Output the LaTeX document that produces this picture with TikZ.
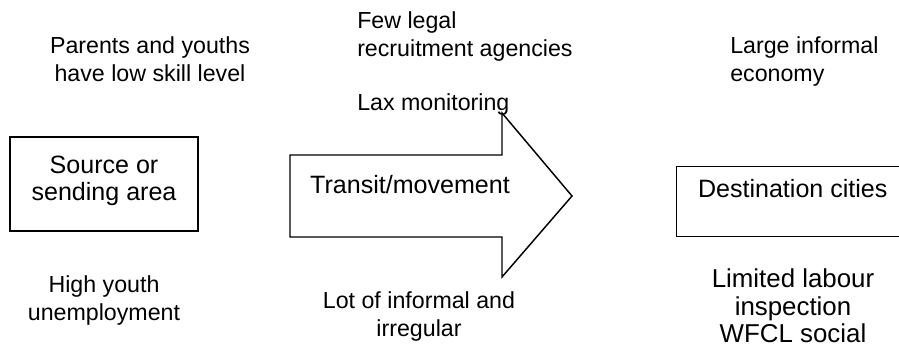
\documentclass[tikz,border=0pt]{standalone}
\usepackage{fontspec}
\setmainfont{Liberation Sans}
\usetikzlibrary{positioning}

\newcommand{\notefont}{\fontsize{17.4}{20.6}\selectfont}
\newcommand{\boxfont}{\fontsize{18.8}{20.3}\selectfont}
\newcommand{\bignotefont}{\fontsize{19.4}{20.8}\selectfont}

\tikzset{
    box/.style={
        rectangle,
        draw=black,
        line width=1.1pt,
        inner sep=0pt,
        font=\boxfont
    },
    note/.style={
        inner sep=0pt,
        align=center,
        font=\notefont
    }
}

\begin{document}
\begin{tikzpicture}[x=0.75pt, y=-0.75pt]

\useasboundingbox (0,0) rectangle (899,354);
\clip (0,0) rectangle (899,354);

% 1. Source
\node[box, align=center, minimum width=141pt, minimum height=70.5pt] (src) at (104,184) {Source or\\sending area\\[-12pt]};
\node[note, anchor=north] (skill) at (150,36.5) {Parents and youths\\have low skill level};
\node[note, below=33pt of src] (jobless) {High youth\\unemployment};

% 2. Transit arrow (shaft 290..502, head to the tip at 572)
\coordinate (tail) at (290,196);
\coordinate (tip) at (572,196);
\draw[line width=1.1pt, line join=miter]
    (tail) ++(0,-41) -- ++(212,0) -- ++(0,-42) -- (tip)
    -- ++(-70,81) -- ++(0,-40) -- ++(-212,0) -- cycle;
\node[note, font=\boxfont, anchor=base] (move) at (410,193) {Transit/movement};
\node[note, align=left, anchor=north west] (agency) at (357,11.5) {Few legal\\recruitment agencies};
\node[note, anchor=north west] (monitor) at (357,93.5) {Lax monitoring};
\node[note, anchor=north] (irregular) at (419,291.5) {Lot of informal and\\irregular};

% 3. Destination
\node[box, minimum width=174pt, text height=23.25pt, text depth=29.25pt, anchor=north west] (dest) at (676,166) {Destination cities};
\node[note, align=left, anchor=north west] (informal) at (730,36.5) {Large informal\\economy};
\node[note, font=\bignotefont, anchor=north] (inspect) at (793,268.5) {Limited labour\\inspection\\WFCL social};

\end{tikzpicture}
\end{document}
